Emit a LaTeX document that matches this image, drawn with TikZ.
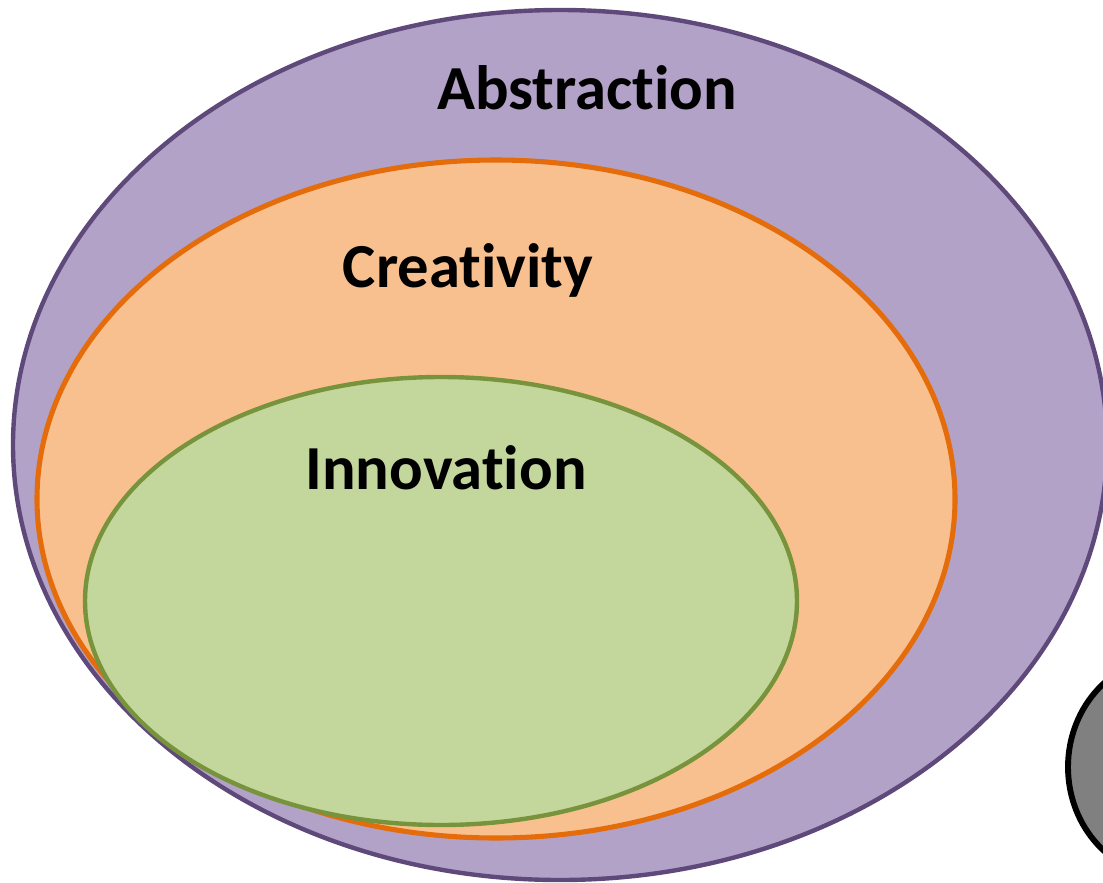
\documentclass[tikz,border=0pt]{standalone}
\usepackage{fontspec}
\setmainfont{Carlito}[Ligatures=NoCommon]
\usepackage{tikz}
\usetikzlibrary{positioning}
\definecolor{abstrfill}{HTML}{B3A2C7}
\definecolor{abstrline}{HTML}{5F497A}
\definecolor{creafill}{HTML}{F9C08F}
\definecolor{crealine}{HTML}{E46C0A}
\definecolor{innofill}{HTML}{C3D69B}
\definecolor{innoline}{HTML}{77933C}
\tikzset{lbl/.style={font=\fontsize{47}{56}\selectfont\bfseries,inner sep=0pt}}

\begin{document}
\begin{tikzpicture}[x=0.75pt,y=-0.75pt]
		\useasboundingbox (0,0) rectangle (1103,882);
		\clip (0,0) rectangle (1103,882);
		\filldraw[fill=abstrfill,draw=abstrline,line width=3.3pt] (560,445) ellipse [x radius=547,y radius=435];
		\filldraw[fill=creafill,draw=crealine,line width=3.8pt] (496,499) ellipse [x radius=459,y radius=339];
		\filldraw[fill=innofill,draw=innoline,line width=3.3pt] (441,601) ellipse [x radius=356,y radius=224];
		\filldraw[fill=gray,draw=black,line width=4.4pt] (1170,767) ellipse [x radius=102,y radius=110];
		\node[lbl] (abstr) at (587,88) {Abstraction};
		\node[lbl] (crea) at (468,270) {Creativity};
		\node[lbl] (inno) at (446,468) {Innovation};
\end{tikzpicture}
\end{document}
